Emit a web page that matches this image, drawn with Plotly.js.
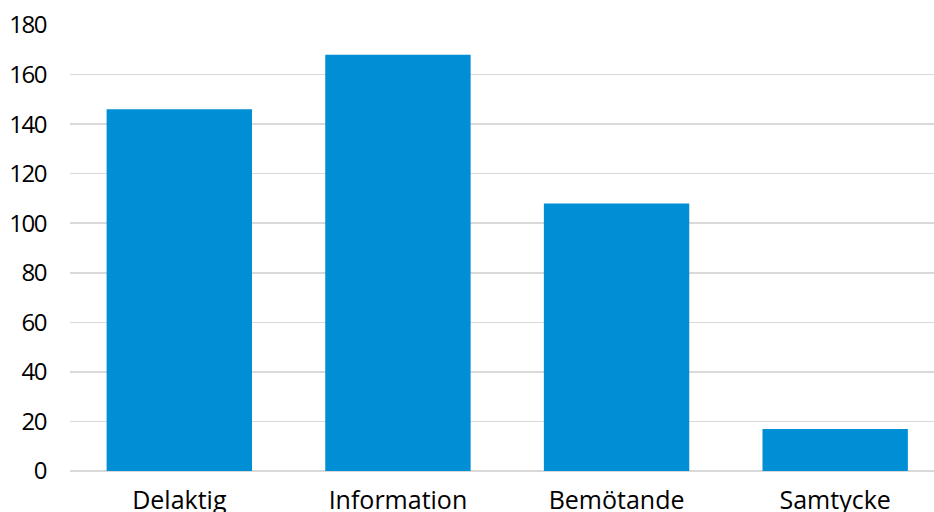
<!DOCTYPE html>
<html>
<head>
<meta charset="utf-8">
<script src="https://cdn.plot.ly/plotly-3.0.1.min.js"></script>
<style>
html,body{margin:0;padding:0;background:#fff;}
#chart{width:934px;height:512px;}
.ytick text{letter-spacing:-1.5px;}
</style>
</head>
<body>
<div id="chart"></div>
<script>
const categories = ["Delaktig", "Information", "Bemötande", "Samtycke"];
const values = [146, 168, 108, 17];
const yTicks = [0, 20, 40, 60, 80, 100, 120, 140, 160, 180];

const trace = {
  type: "bar",
  x: categories,
  y: values,
  marker: {color: "#008fd5"},
  width: 0.665,
  hoverinfo: "x+y"
};

const layout = {
  width: 934,
  height: 512,
  margin: {l: 70, r: 0, t: 25, b: 41, pad: 0},
  paper_bgcolor: "#ffffff",
  plot_bgcolor: "#ffffff",
  font: {family: "Open Sans, Noto Sans, sans-serif", size: 24, color: "#000000"},
  showlegend: false,
  bargap: 0.335,
  xaxis: {
    type: "category",
    range: [-0.5, 3.452],
    showgrid: false,
    showline: false,
    zeroline: false,
    ticks: "",
    tickfont: {size: 25},
    ticklabelstandoff: 12
  },
  yaxis: {
    range: [0, 180],
    tickvals: yTicks,
    ticktext: yTicks.map(String),
    showgrid: true,
    gridcolor: "#d9d9d9",
    gridwidth: 1.5,
    zeroline: true,
    zerolinecolor: "#d9d9d9",
    zerolinewidth: 1.5,
    showline: false,
    ticks: "",
    tickfont: {size: 24},
    ticklabelstandoff: 23
  }
};

Plotly.newPlot("chart", [trace], layout, {displayModeBar: false, staticPlot: true});
</script>
</body>
</html>
